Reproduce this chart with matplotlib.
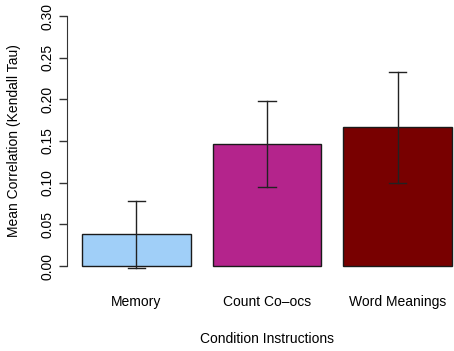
import matplotlib
matplotlib.use("Agg")
import matplotlib.pyplot as plt

plt.rcParams["font.family"] = ["Liberation Sans", "DejaVu Sans"]

conditions = ["Memory", "Count Co\u2013ocs", "Word Meanings"]
mean_tau = [0.038, 0.146, 0.167]
err_low = [-0.002, 0.095, 0.100]
err_high = [0.078, 0.198, 0.233]
bar_colors = ["#A0CFF8", "#B4248C", "#780000"]
y_ticks = [0.00, 0.05, 0.10, 0.15, 0.20, 0.25, 0.30]

# R barplot layout: width 1, space 0.2
centers = [0.7 + 1.2 * i for i in range(len(conditions))]

fig = plt.figure(figsize=(4.54, 3.51), dpi=100)
ax = fig.add_axes([67.2 / 454, 75 / 351, 399.6 / 454, 270 / 351])

ax.bar(centers, mean_tau, width=1.0, color=bar_colors,
       edgecolor="#1a1a1a", linewidth=1.0)

for x, lo, hi in zip(centers, err_low, err_high):
    ax.plot([x, x], [lo, hi], color="#222222", linewidth=1.0)
    ax.plot([x - 0.08, x + 0.08], [hi, hi], color="#222222", linewidth=1.0)
    ax.plot([x - 0.08, x + 0.08], [lo, lo], color="#222222", linewidth=1.0)

ax.set_xlim(0.064, 3.736)
ax.set_ylim(-0.012, 0.312)

for side in ["top", "right", "bottom"]:
    ax.spines[side].set_visible(False)
ax.spines["left"].set_bounds(0, 0.30)
ax.spines["left"].set_color("#333333")

ax.set_yticks(y_ticks)
ax.set_yticklabels([f"{t:.2f}" for t in y_ticks], rotation=90, va="center",
                   fontsize=10)
ax.tick_params(axis="y", length=6, width=1, color="#333333", pad=3)

ax.set_xticks(centers)
ax.set_xticklabels(conditions, fontsize=10)
ax.tick_params(axis="x", length=0, pad=14)

ax.set_xlabel("Condition Instructions", fontsize=10, labelpad=16)
ax.set_ylabel("Mean Correlation (Kendall Tau)", fontsize=10, labelpad=14)

fig.savefig("out.png", dpi=100)
